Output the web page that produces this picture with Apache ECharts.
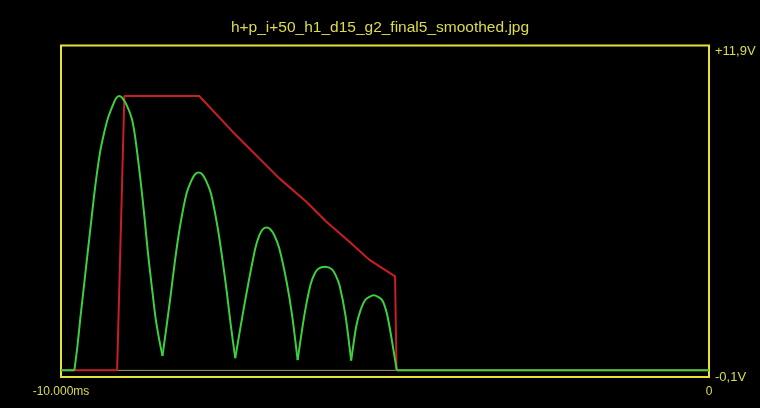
<!DOCTYPE html>
<html>
<head>
<meta charset="utf-8">
<script src="https://cdn.jsdelivr.net/npm/echarts@6/dist/echarts.min.js"></script>
<style>
  html, body { margin: 0; padding: 0; background: #000; }
  #chart { width: 760px; height: 408px; }
</style>
</head>
<body>
<div id="chart"></div>
<script>
// Scope capture: time in ms, voltage in V
const chartTitle = 'h+p_i+50_h1_d15_g2_final5_smoothed.jpg';
const timeRange = [-10, 0];
const voltRange = [-0.1, 11.9];
const xTickLabels = ['-10.000ms', '0'];
const yTickLabels = ['-0,1V', '+11,9V'];
const baselineVolt = 0.14;

// Green trace: flat lead-in, five humps, flat tail  ([ms, V])
const greenLead = [[-10, 0.14], [-9.794, 0.14]];
const greenArc1 = [
  [-9.794, 0.14], [-9.745, 1.04], [-9.702, 2.02], [-9.645, 3.21], [-9.587, 4.43],
  [-9.528, 5.66], [-9.470, 6.84], [-9.397, 8.04], [-9.335, 8.73], [-9.278, 9.25],
  [-9.201, 9.73], [-9.150, 9.99], [-9.104, 10.07], [-9.058, 10.01], [-8.985, 9.73],
  [-8.907, 9.25], [-8.864, 8.72], [-8.825, 8.04], [-8.764, 6.84], [-8.710, 5.64],
  [-8.660, 4.43], [-8.601, 3.22], [-8.540, 2.02], [-8.488, 1.30], [-8.434, 0.66]
];
const greenArc2 = [
  [-8.434, 0.66], [-8.372, 1.72], [-8.304, 2.93], [-8.240, 4.13], [-8.165, 5.33],
  [-8.063, 6.54], [-7.986, 7.02], [-7.930, 7.24], [-7.878, 7.30], [-7.822, 7.24],
  [-7.764, 7.02], [-7.686, 6.54], [-7.584, 5.33], [-7.507, 4.13], [-7.439, 2.93],
  [-7.377, 1.72], [-7.311, 0.58]
];
const greenArc3 = [
  [-7.311, 0.58], [-7.198, 2.14], [-7.105, 3.34], [-7.002, 4.55], [-6.940, 5.03],
  [-6.880, 5.26], [-6.827, 5.31], [-6.770, 5.25], [-6.708, 5.03], [-6.631, 4.55],
  [-6.518, 3.34], [-6.434, 2.14], [-6.348, 0.51]
];
const greenArc4 = [
  [-6.348, 0.51], [-6.244, 2.14], [-6.150, 3.24], [-6.090, 3.62], [-6.030, 3.82],
  [-5.924, 3.89], [-5.820, 3.80], [-5.760, 3.58], [-5.700, 3.20], [-5.611, 2.14],
  [-5.522, 0.49]
];
const greenArc5 = [
  [-5.522, 0.49], [-5.445, 1.72], [-5.380, 2.30], [-5.300, 2.70], [-5.173, 2.86],
  [-5.050, 2.70], [-4.985, 2.32], [-4.930, 1.72], [-4.818, 0.14]
];
const greenTail = [[-4.818, 0.14], [0, 0.14]];

// Red trace: step up, plateau, sagging ramp, drop back
const redTrace = [
  [-10, 0.14], [-9.134, 0.14], [-9.022, 10.07], [-7.867, 10.07], [-7.352, 8.78],
  [-6.631, 7.09], [-6.218, 6.25], [-5.909, 5.53], [-5.549, 4.80], [-5.240, 4.14],
  [-4.845, 3.54], [-4.822, 0.14], [0, 0.14]
];

const YELLOW = '#e4e436';
const LABEL = '#dcdc4c';
const GREEN = '#3dcf3d';
const RED = '#c81e24';
const FONT = "'Liberation Sans Narrow', 'Liberation Sans', Arial, sans-serif";

const greenParts = [greenLead, greenArc1, greenArc2, greenArc3, greenArc4, greenArc5, greenTail];

const series = [
  {
    type: 'line',
    data: [[timeRange[0], baselineVolt], [timeRange[1], baselineVolt]],
    showSymbol: false,
    silent: true,
    lineStyle: { color: '#a09a66', width: 1 },
    z: 1
  },
  {
    type: 'line',
    data: redTrace,
    showSymbol: false,
    lineStyle: { color: RED, width: 2 },
    z: 2
  }
].concat(greenParts.map((part, i) => ({
  type: 'line',
  data: part,
  showSymbol: false,
  smooth: (i === 0 || i === greenParts.length - 1) ? false : 0.25,
  lineStyle: { color: GREEN, width: 2 },
  z: 3
})));

const chart = echarts.init(document.getElementById('chart'), null, { renderer: 'canvas' });
chart.setOption({
  backgroundColor: '#000',
  animation: false,
  title: {
    text: chartTitle,
    left: 'center',
    top: 15,
    textStyle: { color: LABEL, fontSize: 15.5, fontWeight: 'normal', fontFamily: FONT }
  },
  grid: {
    left: 61, right: 51, top: 45.5, bottom: 31,
    show: true,
    borderColor: YELLOW,
    borderWidth: 2,
    backgroundColor: 'transparent'
  },
  xAxis: {
    type: 'value',
    min: timeRange[0],
    max: timeRange[1],
    axisLine: { show: false },
    axisTick: { show: false },
    splitLine: { show: false },
    axisLabel: {
      customValues: timeRange,
      color: LABEL,
      fontSize: 12,
      fontFamily: FONT,
      margin: 9,
      formatter: v => (v === timeRange[0] ? xTickLabels[0] : xTickLabels[1])
    }
  },
  yAxis: {
    type: 'value',
    position: 'right',
    min: voltRange[0],
    max: voltRange[1],
    axisLine: { show: false },
    axisTick: { show: false },
    splitLine: { show: false },
    axisLabel: {
      customValues: voltRange,
      color: LABEL,
      fontSize: 13,
      fontFamily: FONT,
      margin: 6,
      formatter: v => (v === voltRange[1] ? '{top|' + yTickLabels[1] + '}' : yTickLabels[0]),
      rich: {
        top: { color: LABEL, fontSize: 13, fontFamily: FONT, padding: [12, 0, 0, 0] }
      }
    }
  },
  series: series
});
</script>
</body>
</html>
